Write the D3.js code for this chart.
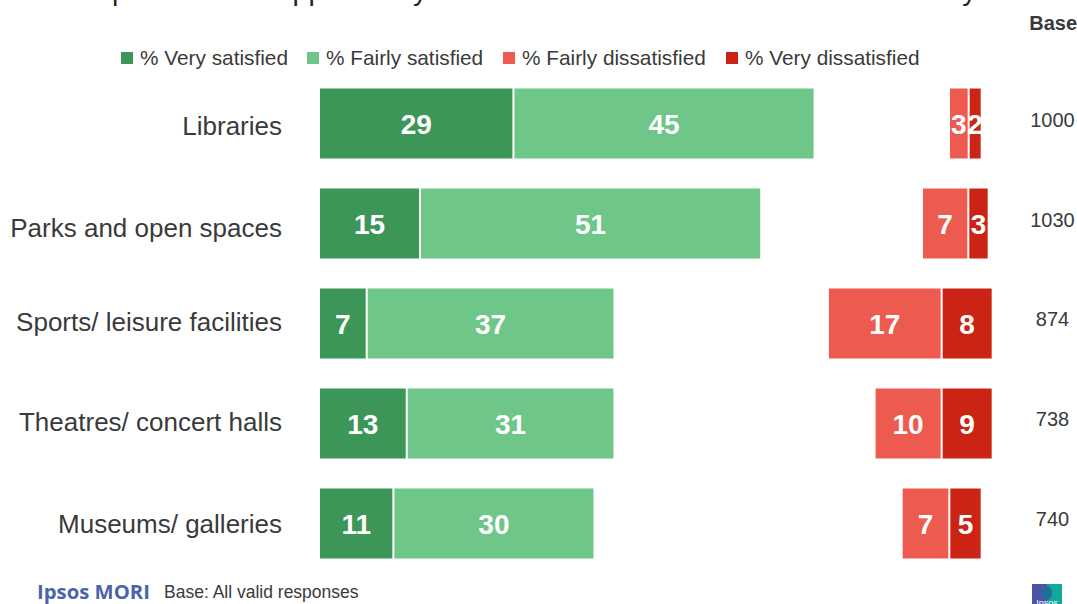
<!DOCTYPE html>
<html><head><meta charset="utf-8">
<script src="https://d3js.org/d3.v7.min.js"></script>
<style>html,body{margin:0;padding:0;background:#fff;overflow:hidden}svg{display:block}text{font-family:"Liberation Sans",Arial,sans-serif}</style>
</head><body><svg id="c" width="1077" height="604"></svg>
<script>
const categories=["Libraries","Parks and open spaces","Sports/ leisure facilities","Theatres/ concert halls","Museums/ galleries"];
const verySatisfied=[29,15,7,13,11];
const fairlySatisfied=[45,51,37,31,30];
const fairlyDissatisfiedLabels=[3,7,17,10,7];
const veryDissatisfiedLabels=[2,3,8,9,5];
const dissatisfiedStart=[94.45,90.4,76.3,83.3,87.35];
const fairlyDissatisfied=[2.8,6.8,16.9,9.9,7.0];
const veryDissatisfied=[1.8,2.9,7.5,7.5,4.7];
const bases=[1000,1030,874,738,740];
const legendLabels=["% Very satisfied","% Fairly satisfied","% Fairly dissatisfied","% Very dissatisfied"];
const colors=["#3c9658","#6ec688","#ed5a50","#cb2314"];
const titleText="provided or supported by South Hull Council / Town Council / County Council";
const svg=d3.select("#c");
const x=d3.scaleLinear().domain([0,100]).range([320,987]);
const y=d3.scaleBand().domain(categories).range([73.5,573.5]).paddingInner(0.3).paddingOuter(0.15);
const ink="#3a3a3a";
svg.append("text").attr("x",112).attr("y",0).attr("font-size",28.5).attr("fill","#222").text(titleText);
svg.append("text").attr("x",1077).attr("y",30).attr("text-anchor","end").attr("font-size",20).attr("font-weight","bold").attr("fill",ink).text("Base");
const legX=[120,306,502,725];
legendLabels.forEach((t,i)=>{
 svg.append("rect").attr("x",legX[i]+1).attr("y",52).attr("width",12).attr("height",12).attr("fill",colors[i]);
 svg.append("text").attr("x",legX[i]+20).attr("y",65).attr("font-size",20.8).attr("fill",ink).text(t);
});
const labelNudge=[2,4,-2,-2,0];
const axisG=svg.append("g").attr("transform","translate(282,0)").call(d3.axisLeft(y).tickSize(0).tickPadding(0));
axisG.select(".domain").remove();
axisG.selectAll("text").attr("font-size",26).attr("fill",ink).attr("dy",(d,i)=>(9+labelNudge[i])+"px").style("font-family",'"Liberation Sans",Arial,sans-serif');
function bar(g,x0,x1,t,v,c){
 g.append("rect").attr("x",x0).attr("y",t).attr("width",Math.max(0,x1-x0)).attr("height",y.bandwidth()).attr("fill",c);
 g.append("text").attr("x",(x0+x1)/2).attr("y",t+y.bandwidth()/2+10).attr("text-anchor","middle").attr("font-size",28).attr("font-weight","bold").attr("fill","#fff").text(v);
}
categories.forEach((c,i)=>{
 const g=svg.append("g");const t=y(c);
 const a=verySatisfied[i],b=fairlySatisfied[i];
 bar(g,x(0),x(a)-1,t,a,colors[0]);
 bar(g,x(a)+1,x(a+b),t,b,colors[1]);
 const s=dissatisfiedStart[i],d=fairlyDissatisfied[i],e=veryDissatisfied[i];
 bar(g,x(s),x(s+d)-1,t,fairlyDissatisfiedLabels[i],colors[2]);
 bar(g,x(s+d)+1,x(s+d+e),t,veryDissatisfiedLabels[i],colors[3]);
 svg.append("text").attr("x",1052.5).attr("y",t+y.bandwidth()/2+11-(i<2?0:1)).attr("text-anchor","middle").attr("font-size",20).attr("fill",ink).attr("dy","-0.4em").text(bases[i]);
});
svg.append("text").attr("x",37).attr("y",599).attr("font-size",20.3).attr("font-weight","bold").attr("fill","#4a64a8").style("font-family",'"Open Sans",sans-serif').text("Ipsos MORI");
svg.append("text").attr("x",164).attr("y",598).attr("font-size",17.5).attr("fill",ink).text("Base: All valid responses");
svg.append("rect").attr("x",1032).attr("y",584).attr("width",15).attr("height",20).attr("fill","#4a55a8");
svg.append("rect").attr("x",1047).attr("y",584).attr("width",15).attr("height",20).attr("fill","#12a89c");
svg.append("ellipse").attr("cx",1047).attr("cy",593).attr("rx",5).attr("ry",7).attr("fill","#1f6f9a");
svg.append("text").attr("x",1047).attr("y",606).attr("text-anchor","middle").attr("font-size",9).attr("fill","#fff").text("Ipsos");
</script></body></html>
